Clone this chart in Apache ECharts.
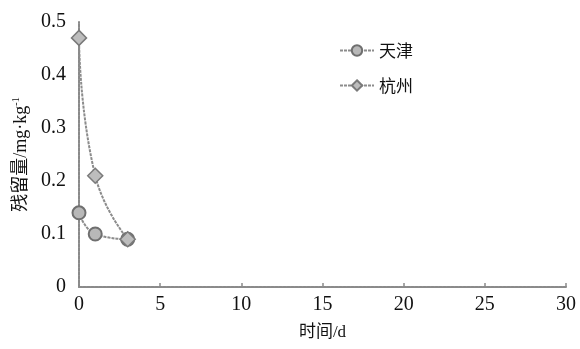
<!DOCTYPE html>
<html>
<head>
<meta charset="utf-8">
<script src="https://cdn.jsdelivr.net/npm/echarts@6/dist/echarts.min.js"></script>
<style>
html, body { margin: 0; padding: 0; background: #fff; }
#main { width: 580px; height: 349px; }
</style>
</head>
<body>
<div id="main"></div>
<script>
// 数据
var days = [0, 1, 3];
var tianjin = [0.14, 0.10, 0.09];
var hangzhou = [0.47, 0.21, 0.09];
var seriesNames = ['天津', '杭州'];

function pairs(xs, ys) {
	var out = [];
	for (var i = 0; i < xs.length; i++) {
		out.push([xs[i], ys[i]]);
	}
	return out;
}

var chart = echarts.init(document.getElementById('main'));
var axisColor = '#8a8a8a';
var serif = '"Liberation Serif", "Noto Sans CJK SC", serif';

var option = {
	backgroundColor: '#fff',
	animation: false,
	grid: {
		left: 79,
		right: 14,
		top: 22,
		bottom: 62,
		outerBoundsMode: 'none'
	},
	legend: {
		orient: 'vertical',
		left: 334,
		top: 37,
		itemGap: 18,
		itemWidth: 34,
		itemHeight: 13,
		textStyle: { fontSize: 17, color: '#111', fontFamily: '"Noto Sans CJK SC", serif' },
		data: seriesNames
	},
	xAxis: {
		type: 'value',
		min: 0,
		max: 30,
		interval: 5,
		name: '时间/d',
		nameLocation: 'middle',
		nameGap: 37,
		nameTextStyle: { fontSize: 17, color: '#111', fontFamily: serif },
		axisLine: { lineStyle: { color: axisColor, width: 2, type: [3, 1] } },
		axisTick: { inside: true, length: 4, lineStyle: { color: axisColor, width: 1.5 } },
		axisLabel: { fontSize: 20, color: '#111', margin: 8, fontFamily: serif },
		splitLine: { show: false }
	},
	yAxis: {
		type: 'value',
		min: 0,
		max: 0.5,
		interval: 0.1,
		name: '残留量/mg·kg{sup|-1}',
		nameLocation: 'middle',
		nameGap: 48,
		nameRotate: 90,
		nameTextStyle: {
			fontSize: 18,
			color: '#111',
			fontFamily: serif,
			rich: {
				sup: { fontSize: 10, verticalAlign: 'top', padding: [0, 0, 9, 0], fontFamily: serif, color: '#111' }
			}
		},
		axisLine: { show: true, lineStyle: { color: axisColor, width: 2, type: [3, 1] } },
		axisTick: { show: false },
		axisLabel: {
			fontSize: 20,
			color: '#111',
			margin: 13,
			fontFamily: serif,
			formatter: function (v) { return v === 0 ? '0' : v.toFixed(1); }
		},
		splitLine: { show: false }
	},
	series: [
		{
			name: seriesNames[0],
			type: 'line',
			smooth: 0.5,
			symbol: 'circle',
			symbolSize: 13,
			data: pairs(days, tianjin),
			lineStyle: { color: '#8c8c8c', width: 2, type: [3, 1] },
			itemStyle: { color: '#b8b8b8', borderColor: '#6f6f6f', borderWidth: 2 }
		},
		{
			name: seriesNames[1],
			type: 'line',
			smooth: 0.5,
			symbol: 'diamond',
			symbolSize: 15,
			data: pairs(days, hangzhou),
			lineStyle: { color: '#8c8c8c', width: 2, type: [3, 1] },
			itemStyle: { color: '#bdbdbd', borderColor: '#7a7a7a', borderWidth: 1.5 }
		}
	]
};
chart.setOption(option);
</script>
</body>
</html>
